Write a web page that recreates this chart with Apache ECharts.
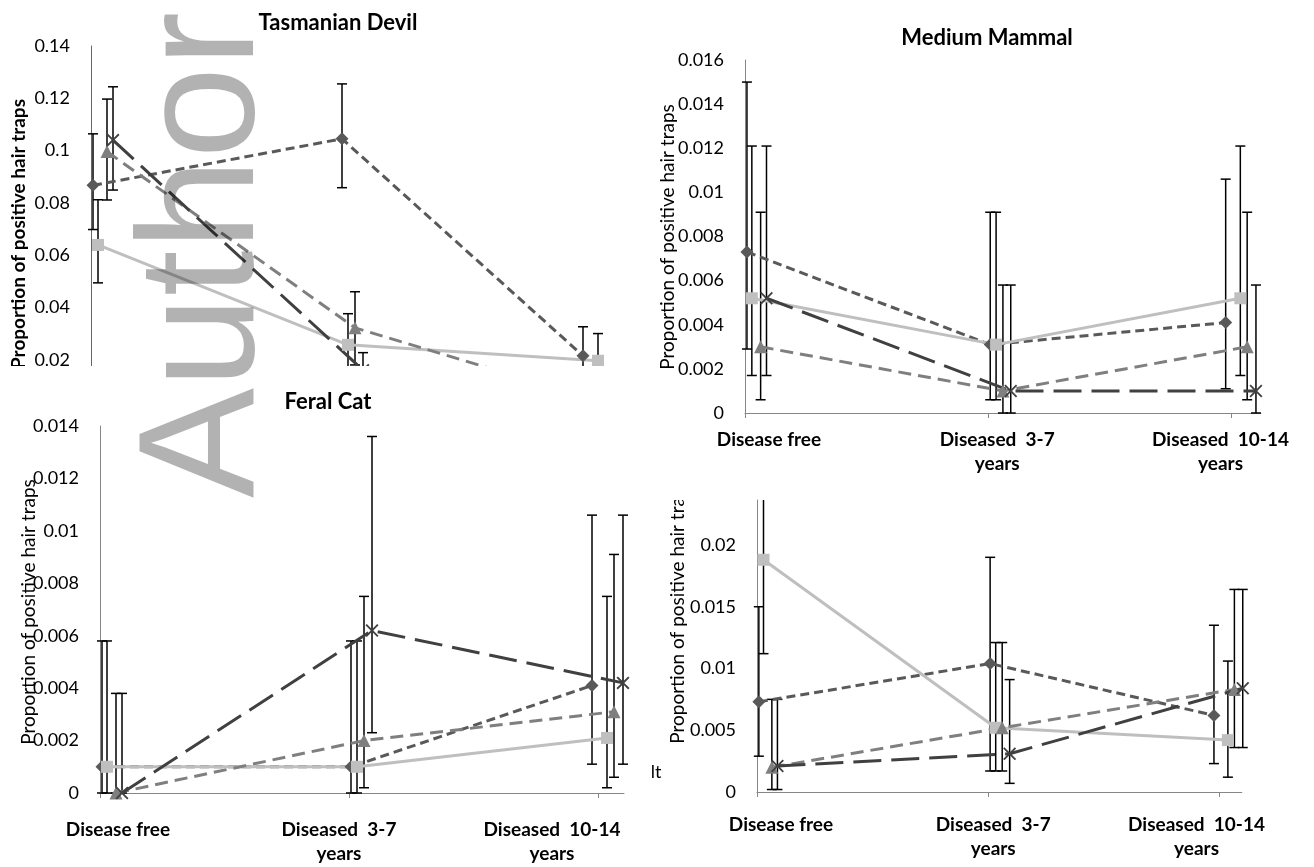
<!DOCTYPE html>
<html><head><meta charset="utf-8">
<script src="https://cdn.jsdelivr.net/npm/echarts@6/dist/echarts.min.js"></script>
<style>html,body{margin:0;padding:0;background:#fff}#c{width:1314px;height:867px}</style>
</head><body><div id="c"></div>
<script>
// ---------------- data ----------------
const categories = ['Disease free', 'Diseased  3-7\nyears', 'Diseased  10-14\nyears'];
const panelTitles = ['Tasmanian Devil', 'Medium Mammal', 'Feral Cat', ''];
const yAxisTitle = 'Proportion of positive hair traps';

// Tasmanian Devil
const devilDiamond = [0.0867, 0.1045, 0.0215];
const devilDiamondLo = [0.0698, 0.0858, 0.011];
const devilDiamondHi = [0.1064, 0.1255, 0.0326];
const devilSquare = [0.0639, 0.0257, 0.0196];
const devilSquareLo = [0.0494, 0.0135, 0.009];
const devilSquareHi = [0.0812, 0.0376, 0.030];
const devilTriangle = [0.0996, 0.0322, 0.0035];
const devilTriangleLo = [0.0811, 0.018, 0.0];
const devilTriangleHi = [0.1197, 0.046, 0.012];
const devilCross = [0.104, 0.016, 0.008];
const devilCrossLo = [0.0849, 0.008, 0.002];
const devilCrossHi = [0.1244, 0.0227, 0.015];
const devilTicks = [0.02, 0.04, 0.06, 0.08, 0.1, 0.12, 0.14];

// Medium Mammal
const mammalDiamond = [0.0073, 0.0031, 0.0041];
const mammalDiamondLo = [0.0029, 0.0006, 0.0011];
const mammalDiamondHi = [0.0150, 0.0091, 0.0106];
const mammalSquare = [0.0052, 0.0031, 0.0052];
const mammalSquareLo = [0.0017, 0.0006, 0.0017];
const mammalSquareHi = [0.0121, 0.0091, 0.0121];
const mammalTriangle = [0.0030, 0.0010, 0.0030];
const mammalTriangleLo = [0.0006, 0.0, 0.0006];
const mammalTriangleHi = [0.0091, 0.0058, 0.0091];
const mammalCross = [0.0052, 0.0010, 0.0010];
const mammalCrossLo = [0.0017, 0.0, 0.0];
const mammalCrossHi = [0.0121, 0.0058, 0.0058];
const mammalTicks = [0, 0.002, 0.004, 0.006, 0.008, 0.01, 0.012, 0.014, 0.016];

// Feral Cat
const catDiamond = [0.0010, 0.0010, 0.0041];
const catDiamondLo = [0.0, 0.0, 0.0011];
const catDiamondHi = [0.0058, 0.0058, 0.0106];
const catSquare = [0.0010, 0.0010, 0.0021];
const catSquareLo = [0.0, 0.0, 0.0002];
const catSquareHi = [0.0058, 0.0058, 0.0075];
const catTriangle = [0.0, 0.0020, 0.0031];
const catTriangleLo = [0.0, 0.0002, 0.0006];
const catTriangleHi = [0.0038, 0.0075, 0.0091];
const catCross = [0.0, 0.0062, 0.0042];
const catCrossLo = [0.0, 0.0023, 0.0011];
const catCrossHi = [0.0038, 0.0136, 0.0106];
const catTicks = [0, 0.002, 0.004, 0.006, 0.008, 0.01, 0.012, 0.014];

// Fourth (untitled) panel
const otherDiamond = [0.0073, 0.0104, 0.0062];
const otherDiamondLo = [0.0029, 0.0017, 0.0023];
const otherDiamondHi = [0.0150, 0.0190, 0.0135];
const otherSquare = [0.0188, 0.0052, 0.0042];
const otherSquareLo = [0.0112, 0.0017, 0.0012];
const otherSquareHi = [0.0270, 0.0121, 0.0106];
const otherTriangle = [0.0020, 0.0052, 0.0083];
const otherTriangleLo = [0.0002, 0.0017, 0.0036];
const otherTriangleHi = [0.0075, 0.0121, 0.0164];
const otherCross = [0.0021, 0.0031, 0.0084];
const otherCrossLo = [0.0002, 0.0007, 0.0036];
const otherCrossHi = [0.0075, 0.0091, 0.0164];
const otherTicks = [0, 0.005, 0.01, 0.015, 0.02];

// ---------------- layout / style ----------------
const FONT = 'Lato, "Noto Sans", sans-serif';
const UNIT = 249; // px per category step
const pointOffsets = [[2, 7, 16, 22], [2, 8, 15, 23], [-6, 9, 16, 25]]; // px, per category, per series
const crossPath = 'path://M0,1L1,0L5,4L9,0L10,1L6,5L10,9L9,10L5,6L1,10L0,9L4,5Z';
const seriesStyles = [
  { color: '#595959', symbol: 'diamond', size: 13, dash: [9, 5] },
  { color: '#bfbfbf', symbol: 'rect', size: 12, dash: 'solid' },
  { color: '#7f7f7f', symbol: 'triangle', size: 13, dash: [13, 7] },
  { color: '#404040', symbol: crossPath, size: 13, dash: [28, 10] }
];

const panels = [
  { grid: { left: 91, top: 46, width: 528, height: 366 }, yMax: 0.14, interval: 0.02, ticks: devilTicks, showX: false,
    sets: [[devilDiamond, devilDiamondLo, devilDiamondHi], [devilSquare, devilSquareLo, devilSquareHi],
           [devilTriangle, devilTriangleLo, devilTriangleHi], [devilCross, devilCrossLo, devilCrossHi]] },
  { grid: { left: 745, top: 60, width: 528, height: 353 }, yMax: 0.016, interval: 0.002, ticks: mammalTicks, showX: true,
    shifts: [24, 9, -11], margin: 15,
    sets: [[mammalDiamond, mammalDiamondLo, mammalDiamondHi], [mammalSquare, mammalSquareLo, mammalSquareHi],
           [mammalTriangle, mammalTriangleLo, mammalTriangleHi], [mammalCross, mammalCrossLo, mammalCrossHi]] },
  { grid: { left: 100, top: 426, width: 524, height: 367 }, yMax: 0.014, interval: 0.002, ticks: catTicks, showX: true,
    shifts: [18, -10, -46], margin: 25,
    sets: [[catDiamond, catDiamondLo, catDiamondHi], [catSquare, catSquareLo, catSquareHi],
           [catTriangle, catTriangleLo, catTriangleHi], [catCross, catCrossLo, catCrossHi]] },
  { grid: { left: 757, top: 500, width: 522, height: 292 }, yMax: 0.02364, interval: 0.005, ticks: otherTicks, showX: true,
    shifts: [24, 5, -23], margin: 21,
    sets: [[otherDiamond, otherDiamondLo, otherDiamondHi], [otherSquare, otherSquareLo, otherSquareHi],
           [otherTriangle, otherTriangleLo, otherTriangleHi], [otherCross, otherCrossLo, otherCrossHi]] }
];

// ---------------- build option ----------------
const grids = [], xAxes = [], yAxes = [], series = [];

function xLabelRich(shifts) {
  const rich = {};
  shifts.forEach(function (s, i) {
    rich['c' + i] = {
      fontFamily: FONT, fontWeight: 'bold', fontSize: 19, color: '#000', lineHeight: 24,
      padding: s >= 0 ? [0, 0, 0, 2 * s] : [0, -2 * s, 0, 0]
    };
  });
  return rich;
}

panels.forEach(function (p, pi) {
  grids.push(Object.assign({ containLabel: false }, p.grid));
  const xMax = p.grid.width / UNIT;
  xAxes.push({
    type: 'value', gridIndex: pi, min: 0, max: xMax, interval: 1,
    show: p.showX,
    splitLine: { show: false },
    axisLine: { show: true, onZero: false, lineStyle: { color: '#868686', width: 1 } },
    axisTick: { show: true, customValues: [0, 1, 2], length: 5, lineStyle: { color: '#868686' } },
    axisLabel: p.showX ? {
      customValues: [0, 1, 2], margin: p.margin, verticalAlign: 'top',
      formatter: function (v) {
        const i = Math.round(v);
        return categories[i].split('\n').map(function (s) { return '{c' + i + '|' + s + '}'; }).join('\n');
      },
      rich: xLabelRich(p.shifts)
    } : { show: false }
  });
  yAxes.push({
    type: 'value', gridIndex: pi, min: 0, max: p.yMax, interval: p.interval,
    splitLine: { show: false },
    axisLine: { show: true, onZero: false, lineStyle: { color: pi === 0 ? '#666' : '#868686', width: 1 } },
    axisTick: { show: false },
    axisLabel: { customValues: p.ticks, margin: 21, color: '#000', fontFamily: FONT, fontSize: 18 }
  });

  p.sets.forEach(function (set, si) {
    const st = seriesStyles[si];
    const vals = set[0], lo = set[1], hi = set[2];
    const xs = vals.map(function (_, ci) { return ci + pointOffsets[ci][si] / UNIT; });
    const yMax = p.yMax;
    series.push({
      type: 'custom', xAxisIndex: pi, yAxisIndex: pi, silent: true,
      data: xs.map(function (x, ci) { return [x, lo[ci], hi[ci]]; }),
      encode: { x: 0, y: [1, 2] },
      renderItem: function (params, api) {
        const x = api.value(0), l = api.value(1), h = api.value(2);
        const capTop = h <= yMax;
        const pLo = api.coord([x, l]);
        const pHi = api.coord([x, Math.min(h, yMax)]);
        const s = { stroke: '#000', lineWidth: 1.5 };
        const children = [
          { type: 'line', shape: { x1: pLo[0], y1: pLo[1], x2: pHi[0], y2: pHi[1] }, style: s },
          { type: 'line', shape: { x1: pLo[0] - 5, y1: pLo[1], x2: pLo[0] + 5, y2: pLo[1] }, style: s }
        ];
        if (capTop) children.push({ type: 'line', shape: { x1: pHi[0] - 5, y1: pHi[1], x2: pHi[0] + 5, y2: pHi[1] }, style: s });
        return { type: 'group', children: children };
      }
    });
    series.push({
      type: 'line', xAxisIndex: pi, yAxisIndex: pi, silent: true, clip: false,
      data: xs.map(function (x, ci) { return [x, vals[ci]]; }),
      symbol: st.symbol, symbolSize: st.size, showAllSymbol: true,
      itemStyle: { color: st.color, borderWidth: 0 },
      lineStyle: { color: st.color, width: 3, type: st.dash, cap: 'butt' },
      animation: false
    });
  });
});

const graphics = [
  // axis titles
  { type: 'text', x: 19, y: 234, rotation: Math.PI / 2, z: 5,
    style: { text: yAxisTitle, font: 'bold 19px ' + FONT, fill: '#000', align: 'center', verticalAlign: 'middle' } },
  { type: 'text', x: 668, y: 237, rotation: Math.PI / 2, z: 5,
    style: { text: yAxisTitle, font: '19px ' + FONT, fill: '#000', align: 'center', verticalAlign: 'middle' } },
  { type: 'text', x: 29, y: 612, rotation: Math.PI / 2, z: 5,
    style: { text: yAxisTitle, font: '19px ' + FONT, fill: '#000', align: 'center', verticalAlign: 'middle' } },
  { type: 'text', x: 678, y: 611, rotation: Math.PI / 2, z: 5,
    style: { text: yAxisTitle, font: '19px ' + FONT, fill: '#000', align: 'center', verticalAlign: 'middle' } },
  // cropping masks
  { type: 'rect', shape: { x: 0, y: 366, width: 650, height: 48 }, style: { fill: '#fff' }, z: 20, silent: true },
  { type: 'rect', shape: { x: 660, y: 466, width: 40, height: 34 }, style: { fill: '#fff' }, z: 20, silent: true },
  // stray fragment
  { type: 'text', x: 656, y: 772, z: 5,
    style: { text: 'lt', font: '18px ' + FONT, fill: '#000', align: 'center', verticalAlign: 'middle' } },
  // panel titles
  { type: 'text', x: 338, y: 23, z: 30,
    style: { text: panelTitles[0], font: 'bold 22px ' + FONT, fill: '#000', align: 'center', verticalAlign: 'middle' } },
  { type: 'text', x: 987, y: 38, z: 30,
    style: { text: panelTitles[1], font: 'bold 22px ' + FONT, fill: '#000', align: 'center', verticalAlign: 'middle' } },
  { type: 'text', x: 328, y: 402, z: 30,
    style: { text: panelTitles[2], font: 'bold 22px ' + FONT, fill: '#000', align: 'center', verticalAlign: 'middle' } },
  // watermark
  { type: 'text', x: 207, y: 498, rotation: Math.PI / 2, z: 40, silent: true,
    style: { text: 'Author', font: '165px "Liberation Sans", Arial, sans-serif', fill: 'rgba(0,0,0,0.3)', align: 'left', verticalAlign: 'middle' } }
];

const chart = echarts.init(document.getElementById('c'), null, { renderer: 'canvas' });
chart.setOption({
  backgroundColor: '#fff',
  animation: false,
  grid: grids,
  xAxis: xAxes,
  yAxis: yAxes,
  series: series,
  graphic: { elements: graphics }
});
</script>
</body></html>
